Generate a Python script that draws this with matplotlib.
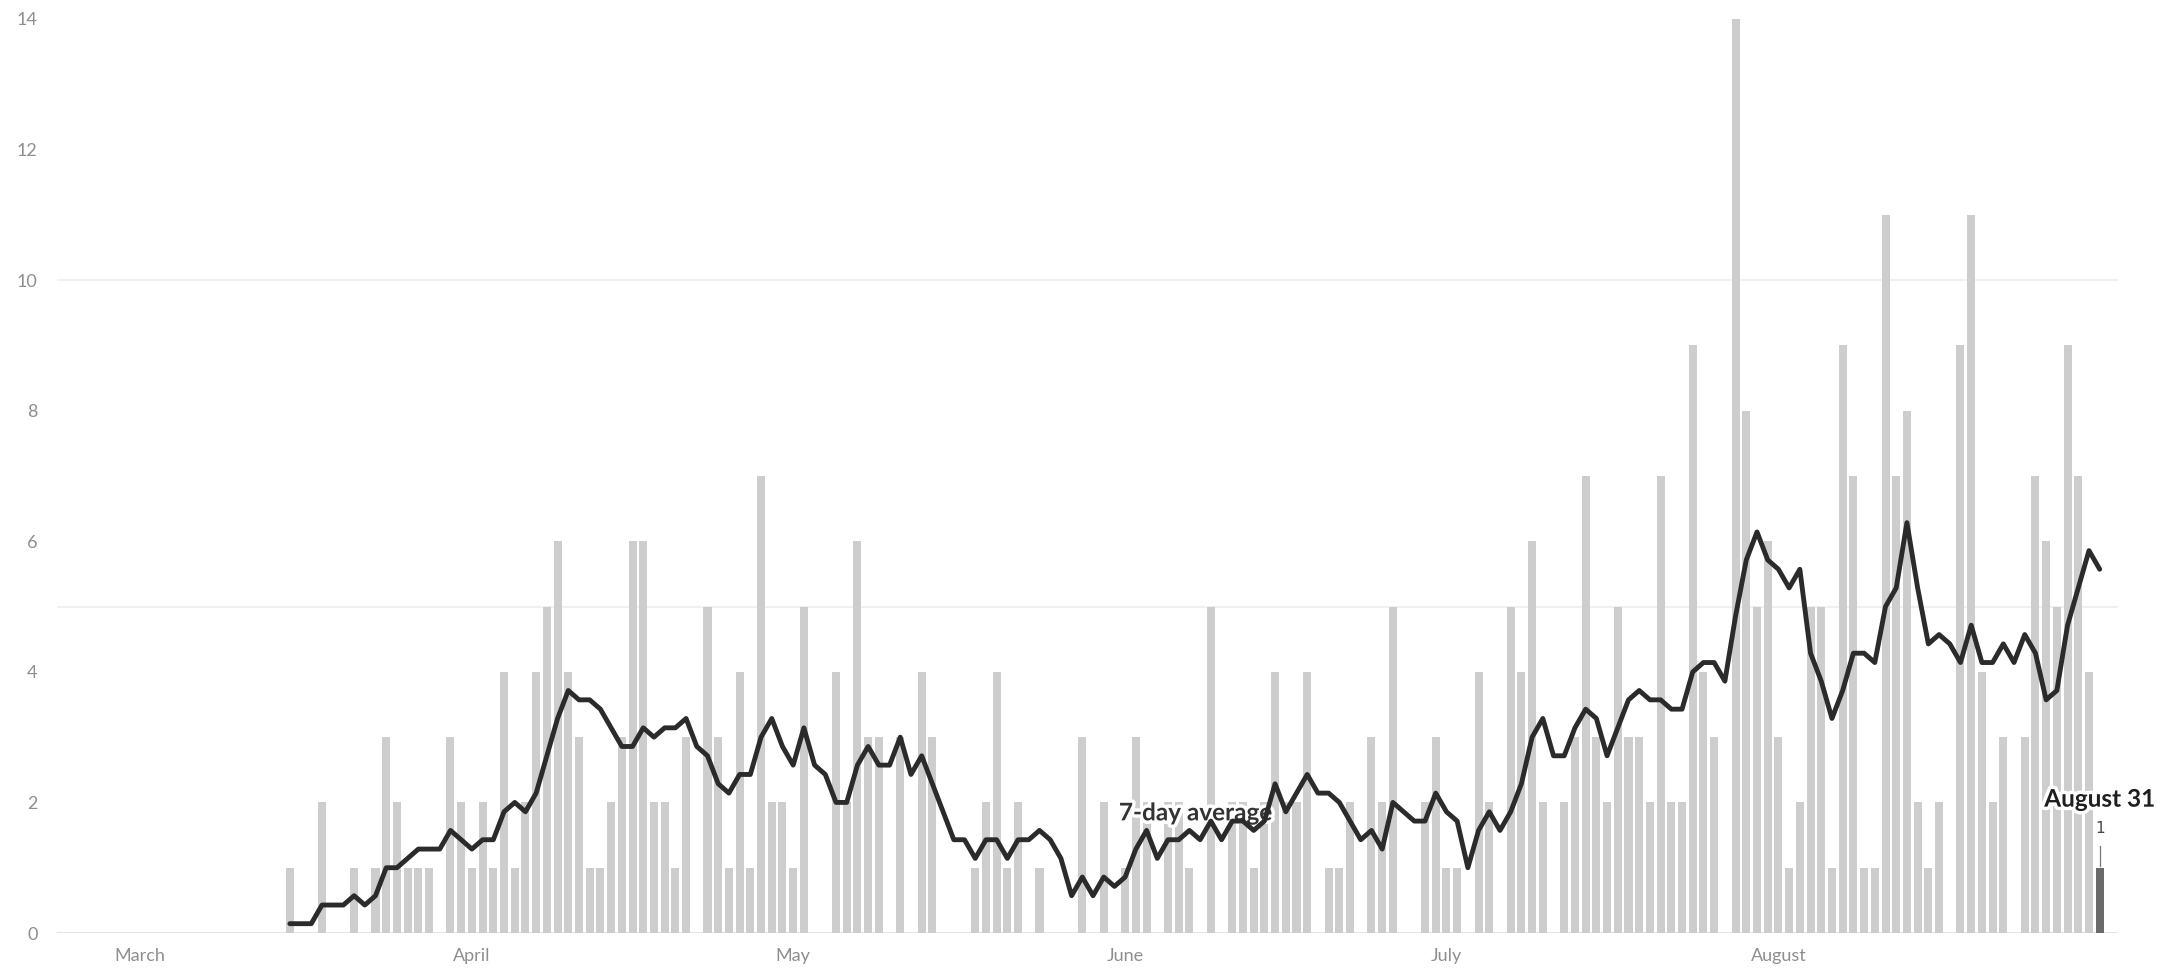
import matplotlib

matplotlib.use("Agg")
import matplotlib.patheffects as pe
import matplotlib.pyplot as plt
import pandas as pd

BAR = "#cdcdcd"
LAST = "#6a6a6a"
LINE = "#2b2b2b"
GRID = "#ededed"
BASE = "#dedede"
TICK = "#8e8e8e"
INK = "#333333"

# daily new cases, March 15 .. August 31
START = "2020-03-15"
march = [1, 0, 0, 2, 0, 0, 1, 0, 1, 3, 2, 1, 1, 1, 0, 3, 2]
april = [1, 2, 1, 4, 1, 2, 4, 5, 6, 4, 3, 1, 1, 2, 3, 6, 6, 2, 2, 1,
         3, 0, 5, 3, 1, 4, 1, 7, 2, 2]
may = [1, 5, 0, 0, 4, 2, 6, 3, 3, 0, 3, 0, 4, 3, 0, 0, 0, 1, 2, 4,
       1, 2, 0, 1, 0, 0, 0, 3, 0, 2, 0]
june = [1, 3, 2, 0, 2, 2, 1, 0, 5, 0, 2, 2, 1, 2, 4, 2, 2, 4, 0, 1,
        1, 2, 0, 3, 2, 5, 0, 0, 2, 3]
july = [1, 1, 0, 4, 2, 0, 5, 4, 6, 2, 0, 2, 3, 7, 3, 2, 5, 3, 3, 2,
        7, 2, 2, 9, 4, 3, 0, 14, 8, 5, 6]
august = [3, 1, 2, 5, 5, 1, 9, 7, 1, 1, 11, 7, 8, 2, 1, 2, 0, 9, 11, 4,
          2, 3, 0, 3, 7, 6, 5, 9, 7, 4, 1]

month_names = ["March", "April", "May", "June", "July", "August"]
y_ticks = [0, 2, 4, 6, 8, 10, 12, 14]
grid_levels = [5, 10]

cases = march + april + may + june + july + august
days = pd.date_range(START, periods=len(cases), freq="D")
series = pd.Series(cases, index=days)
average = series.rolling(7, min_periods=1).sum() / 7
month_starts = pd.date_range("2020-03-01", periods=len(month_names), freq="MS")

fig = plt.figure(figsize=(21.64, 9.73), dpi=100)
ax = fig.add_axes([0.0263, 0.0411, 0.9524, 0.9394])

for level in grid_levels:
    ax.axhline(level, color=GRID, lw=1.2, zorder=0)
ax.axhline(0, color=BASE, lw=1.2, zorder=0)

ax.bar(days[:-1], cases[:-1], width=0.75, color=BAR, zorder=1)
ax.bar(days[-1:], cases[-1:], width=0.75, color=LAST, zorder=1)

halo = [pe.withStroke(linewidth=5, foreground="white")]
ax.text(pd.Timestamp("2020-06-07 14:00"), 1.84, "7-day average", fontsize=17.5,
        family="Lato", fontweight="bold", color=INK, ha="center", va="center",
        zorder=2, path_effects=halo)

ax.plot(average.index, average.values, color=LINE, lw=3.5, zorder=3,
        solid_joinstyle="round", solid_capstyle="round")

last_day = days[-1]
ax.text(last_day, 2.05, "August 31", fontsize=17.5, family="Lato",
        fontweight="bold", color="#1e1e1e", ha="center", va="center",
        zorder=5, path_effects=halo)
ax.text(last_day, 1.6, str(cases[-1]), fontsize=11, color="#444444",
        ha="center", va="center", zorder=5)
ax.plot([last_day, last_day], [cases[-1] + 0.02, cases[-1] + 0.34],
        color="#777777", lw=0.9, zorder=4)

ax.set_xlim(pd.Timestamp("2020-03-01") - pd.Timedelta(days=7.75),
            pd.Timestamp("2020-03-01") + pd.Timedelta(days=184.7))
ax.set_ylim(0, 14)
ax.set_xticks(month_starts, month_names)
ax.set_yticks(y_ticks, [str(t) for t in y_ticks])
ax.tick_params(axis="both", length=0, colors=TICK, labelsize=13)
ax.tick_params(axis="x", pad=11)
ax.tick_params(axis="y", pad=14)
for label in ax.get_xticklabels() + ax.get_yticklabels():
    label.set_family("Lato")
for spine in ax.spines.values():
    spine.set_visible(False)

fig.savefig("out.png", dpi=100)
